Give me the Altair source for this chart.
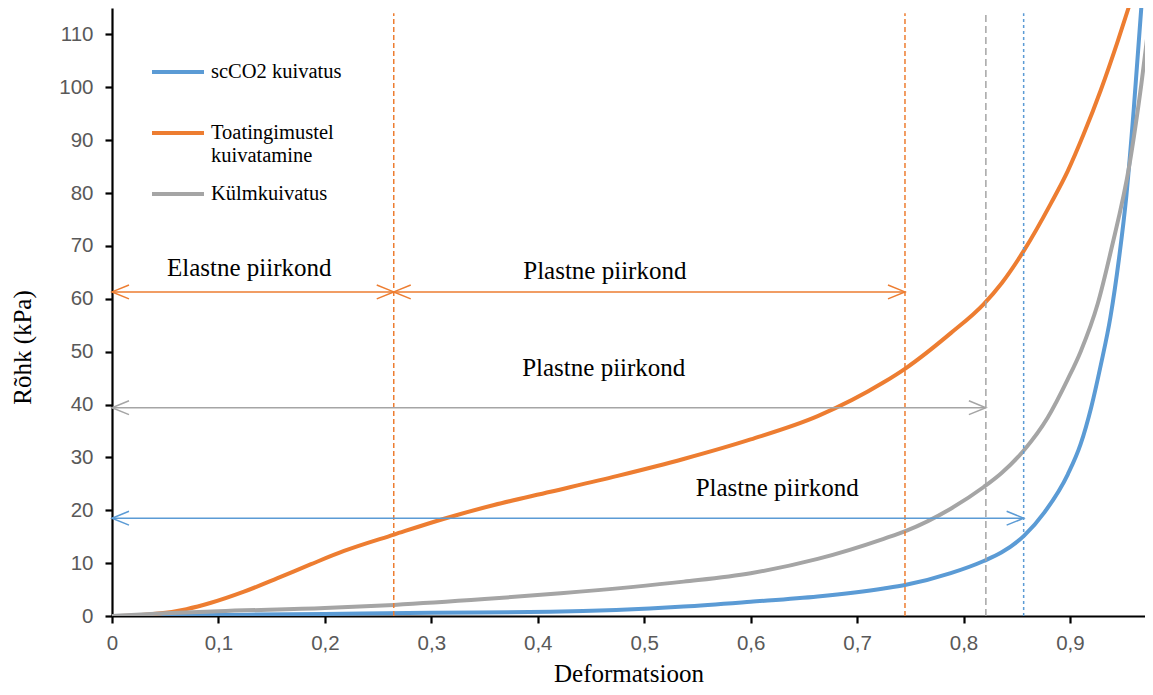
import altair as alt
import pandas as pd

# ---------------- data ----------------
series_names = ["scCO2 kuivatus", "Toatingimustel kuivatamine", "Külmkuivatus"]
series_colors = ["#5B9BD5", "#ED7D31", "#A5A5A5"]

sc_x = [0, 0.1, 0.2, 0.3, 0.412, 0.537, 0.6, 0.663, 0.725, 0.746, 0.788, 0.819,
        0.8355, 0.857, 0.876, 0.898, 0.910, 0.920, 0.929, 0.938, 0.946, 0.953,
        0.960, 0.967, 0.970]
sc_y = [0, 0.2, 0.4, 0.6, 0.8, 1.8, 2.7, 3.7, 5.2, 5.9, 8.1, 10.4,
        12.0, 15.2, 19.6, 26.8, 32.5, 39.5, 47.5, 56.5, 67.5, 79.5,
        96.0, 115, 124]

toa_x = [0, 0.02, 0.046, 0.07, 0.093, 0.124, 0.155, 0.187, 0.218, 0.265, 0.312, 0.359,
         0.412, 0.475, 0.537, 0.6, 0.663, 0.725, 0.746, 0.788, 0.819, 0.836, 0.857,
         0.882, 0.898, 0.913, 0.929, 0.945, 0.955, 0.960]
toa_y = [0, 0.1, 0.5, 1.3, 2.5, 4.6, 7.1, 9.8, 12.3, 15.4, 18.4, 21.0,
         23.5, 26.5, 29.7, 33.4, 37.8, 44.2, 46.9, 53.5, 59.0, 63.0, 69.2,
         78.0, 84.2, 91.2, 99.5, 108.8, 115, 118.2]

kylm_x = [0, 0.05, 0.1, 0.2, 0.265, 0.35, 0.4215, 0.537, 0.6, 0.663, 0.725, 0.746,
          0.788, 0.819, 0.8355, 0.857, 0.879, 0.898, 0.910, 0.926, 0.939, 0.956,
          0.967, 0.976, 0.980]
kylm_y = [0, 0.5, 0.9, 1.5, 2.1, 3.2, 4.3, 6.5, 8.1, 10.8, 14.6, 16.1,
          20.3, 24.4, 27.0, 31.4, 37.5, 44.8, 50.0, 59.0, 69.5, 85.5,
          100.5, 115, 121]

# region boundaries (dashed verticals)
vline_x = [0.2647, 0.745, 0.821, 0.8565]
vline_group = ["orange", "orange", "gray", "blue"]

# double-headed arrows: start, end, level
arrow_x1 = [0.0, 0.2647, 0.0, 0.0]
arrow_x2 = [0.2647, 0.745, 0.821, 0.8565]
arrow_y = [61.3, 61.3, 39.4, 18.5]
arrow_group = ["orange", "orange", "gray", "blue"]

# annotation labels
label_text = ["Elastne piirkond", "Plastne piirkond", "Plastne piirkond", "Plastne piirkond"]
label_x = [0.129, 0.463, 0.462, 0.625]
label_y = [65.8, 65.3, 46.9, 24.2]

x_ticks = [0, 0.1, 0.2, 0.3, 0.4, 0.5, 0.6, 0.7, 0.8, 0.9]
y_ticks = [0, 10, 20, 30, 40, 50, 60, 70, 80, 90, 100, 110]

group_color = {"orange": "#ED7D31", "gray": "#A5A5A5", "blue": "#5B9BD5"}
group_dash = {"orange": [5, 3], "gray": [7, 4], "blue": [3, 3]}

# ---------------- tables ----------------
rows = []
for name, xs, ys in zip(series_names, [sc_x, toa_x, kylm_x], [sc_y, toa_y, kylm_y]):
    for i, (a, b) in enumerate(zip(xs, ys)):
        rows.append({"series": name, "x": a, "y": b, "i": i})
curves = pd.DataFrame(rows)

vlines = pd.DataFrame({"x": vline_x, "g": vline_group,
                       "c": [group_color[g] for g in vline_group]})
vlines["y"] = 0
vlines["y2"] = 114

arrows = pd.DataFrame({"x": arrow_x1, "x2": arrow_x2, "y": arrow_y, "g": arrow_group,
                       "c": [group_color[g] for g in arrow_group]})
heads_left = pd.DataFrame({"x": arrow_x1, "y": arrow_y, "c": arrows["c"]})
heads_right = pd.DataFrame({"x": arrow_x2, "y": arrow_y, "c": arrows["c"]})

labels = pd.DataFrame({"t": label_text, "x": label_x, "y": label_y})

# ---------------- scales / axes ----------------
xscale = alt.Scale(domain=[0, 0.9705], nice=False, zero=False)
yscale = alt.Scale(domain=[0, 115], nice=False, zero=False)

xaxis = alt.Axis(values=x_ticks, title="Deformatsioon",
                 labelExpr="replace(format(datum.value, '.1~f'), '.', ',')",
                 grid=False, domainColor="#000000", domainWidth=2.2,
                 tickColor="#000000", tickWidth=2.2, tickSize=7,
                 labelFont="Liberation Sans", labelFontSize=20.5, labelColor="#595959",
                 labelPadding=10, labelFlush=False,
                 titleFont="Liberation Serif", titleFontSize=25, titleFontWeight="normal",
                 titleColor="#000000", titleY=65, titleBaseline="alphabetic")
yaxis = alt.Axis(values=y_ticks, title="Rõhk (kPa)",
                 grid=False, domainColor="#000000", domainWidth=2.2,
                 tickColor="#000000", tickWidth=2.2, tickSize=7,
                 labelFont="Liberation Sans", labelFontSize=20.5, labelColor="#595959",
                 labelPadding=12, labelFlush=False,
                 titleFont="Liberation Serif", titleFontSize=25, titleFontWeight="normal",
                 titleColor="#000000", titleX=-90, titleY=339, titleAngle=270,
                 titleAlign="center", titleBaseline="middle")


def X(field="x"):
    return alt.X(f"{field}:Q", scale=xscale, axis=xaxis)


def Y(field="y"):
    return alt.Y(f"{field}:Q", scale=yscale, axis=yaxis)


lines = alt.Chart(curves).mark_line(strokeWidth=4, clip=True, interpolate="monotone").encode(
    x=X(), y=Y(),
    order="i:Q",
    color=alt.Color("series:N",
                    scale=alt.Scale(domain=series_names, range=series_colors),
                    legend=alt.Legend(
                        title=None, orient="none", legendX=38, legendY=36,
                        symbolType="stroke", symbolStrokeWidth=4, symbolSize=2704,
                        labelFont="Liberation Serif", labelFontSize=20.5, labelColor="#000000",
                        labelOffset=5, rowPadding=-3.5, padding=0,
                        labelLimit=400,
                        labelExpr="datum.label == 'Toatingimustel kuivatamine' ? ['Toatingimustel', 'kuivatamine'] : [datum.label, '']",
                    )),
)

vlayers = []
for g in ["orange", "gray", "blue"]:
    vlayers.append(
        alt.Chart(vlines[vlines["g"] == g]).mark_rule(
            strokeWidth=1.5, strokeDash=group_dash[g], color=group_color[g]
        ).encode(x=X(), y=Y(), y2="y2:Q")
    )

arrow_lines = alt.Chart(arrows).mark_rule(strokeWidth=1.5).encode(
    x=X(), x2="x2:Q", y=Y(), color=alt.Color("c:N", scale=None)
)
right_heads = alt.Chart(heads_right).mark_point(
    shape="M -1 -0.41 L 0 0 L -1 0.41", size=1156, filled=False, strokeWidth=1.5, opacity=1
).encode(x=X(), y=Y(), color=alt.Color("c:N", scale=None))
left_heads = alt.Chart(heads_left).mark_point(
    shape="M 1 -0.41 L 0 0 L 1 0.41", size=1156, filled=False, strokeWidth=1.5, opacity=1
).encode(x=X(), y=Y(), color=alt.Color("c:N", scale=None))

texts = alt.Chart(labels).mark_text(
    font="Liberation Serif", fontSize=25, color="#000000", align="center", baseline="middle"
).encode(x=X(), y=Y(), text="t:N")

chart = alt.layer(lines, *vlayers, arrow_lines, right_heads, left_heads, texts).properties(
    width=1033, height=608,
    padding={"left": 104, "top": 0, "right": 0, "bottom": 71},
    autosize=alt.AutoSizeParams(type="none"),
    background="#ffffff",
).configure_view(stroke=None)

chart.save("out.html", embed_options={"renderer": "svg", "actions": False})
